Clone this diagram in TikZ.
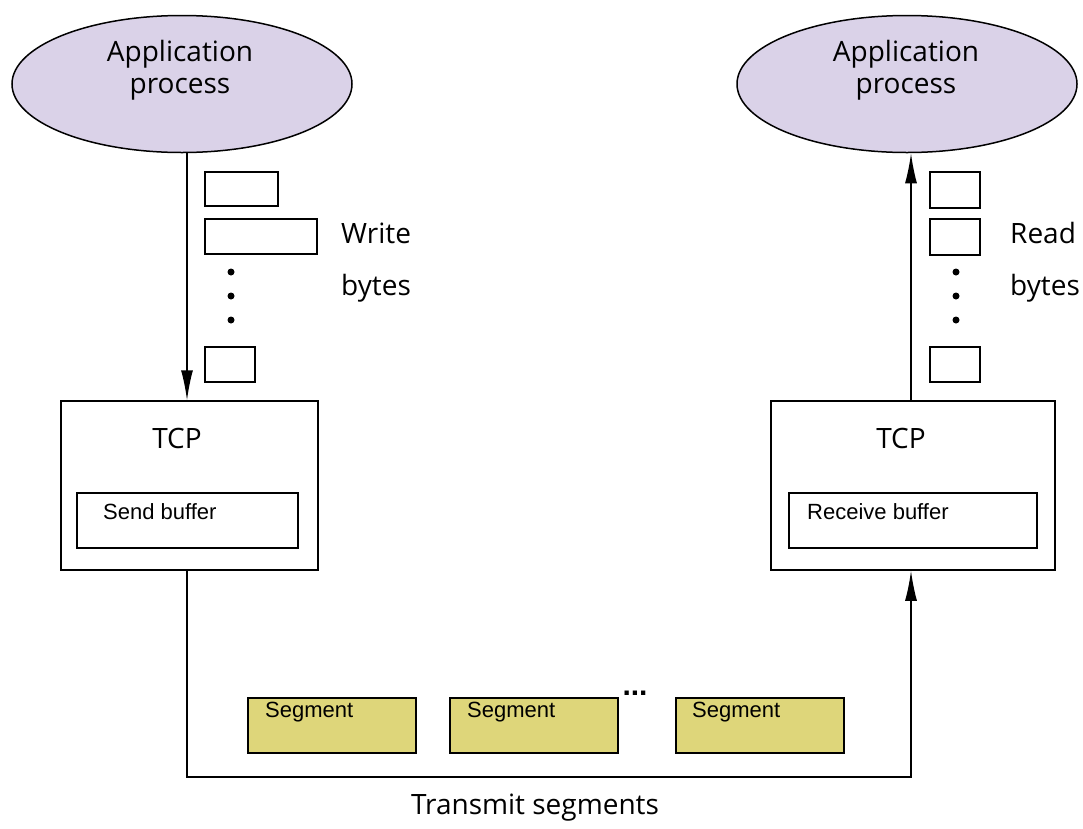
\documentclass[tikz,border=0pt]{standalone}
\usepackage{fontspec}
\setmainfont{Open Sans}
\newfontfamily\arial{Liberation Sans}
\usetikzlibrary{shapes.geometric,arrows.meta}
\definecolor{lav}{RGB}{218,210,232}
\definecolor{seg}{RGB}{222,214,122}
\tikzset{
  app/.style={ellipse,draw,line width=1.5pt,fill=lav,minimum width=340pt,minimum height=137pt,inner sep=0pt},
  big/.style={font=\fontsize{28}{32}\selectfont,align=center,inner sep=0pt},
  small/.style={font=\arial\fontsize{22}{24}\selectfont,inner sep=0pt,anchor=west},
  box/.style={draw,line width=1.5pt,inner sep=0pt,fill=white},
  segbox/.style={draw,line width=1.5pt,fill=seg,minimum width=168pt,minimum height=55pt,inner sep=0pt},
  conn/.style={line width=1.5pt},
  arr/.style={line width=1.5pt,-{Latex[length=30pt,width=12pt]}},
  dot/.style={circle,fill=black,inner sep=0pt,minimum size=7pt},
}
\begin{document}
\begin{tikzpicture}[x=1pt,y=-1pt]
\useasboundingbox (0,0) rectangle (1083,828);
% ellipses
\node[app] (appL) at (182,84) {};
\node[big] (appLt) at (180,70) {Application\\process};
\node[app] (appR) at (907,84) {};
\node[big] (appRt) at (906,70) {Application\\process};
% TCP boxes
\node[box,minimum width=257pt,minimum height=169pt] (tcpL) at (189.5,485.5) {};
\node[big] (tcpLt) at (177,438) {TCP};
\node[box,minimum width=221pt,minimum height=55pt] (bufL) at (187.5,520.5) {};
\node[small] (bufLt) at (103,512) {Send buffer};
\node[box,minimum width=284pt,minimum height=169pt] (tcpR) at (913,485.5) {};
\node[big] (tcpRt) at (901,438) {TCP};
\node[box,minimum width=248pt,minimum height=55pt] (bufR) at (913,520.5) {};
\node[small] (bufRt) at (807,512) {Receive buffer};
% left byte boxes
\node[box,minimum width=73pt,minimum height=34pt] (wb1) at (241.5,189) {};
\node[box,minimum width=112pt,minimum height=35pt] (wb2) at (261,236.5) {};
\node[dot] (wd1) at (231,272) {};
\node[dot] (wd2) at (231,296) {};
\node[dot] (wd3) at (231,320) {};
\node[box,minimum width=50pt,minimum height=35pt] (wb3) at (230,364.5) {};
\node[big,anchor=west] (write) at (341,233) {Write};
\node[big,anchor=west] (wbytes) at (341,288) {bytes};
% right byte boxes
\node[box,minimum width=50pt,minimum height=36pt] (rb1) at (955,190) {};
\node[box,minimum width=50pt,minimum height=36pt] (rb2) at (955,237) {};
\node[dot] (rd1) at (956,272) {};
\node[dot] (rd2) at (956,296) {};
\node[dot] (rd3) at (956,320) {};
\node[box,minimum width=50pt,minimum height=35pt] (rb3) at (955,364.5) {};
\node[big,anchor=west] (read) at (1010,233) {Read};
\node[big,anchor=west] (rbytes) at (1010,288) {bytes};
% segments
\node[segbox] (s1) at (332,725.5) {};
\node[small] (s1t) at (265,712) {Segment};
\node[segbox] (s2) at (534,725.5) {};
\node[small] (s2t) at (467,712) {Segment};
\node[segbox] (s3) at (760,725.5) {};
\node[small] (s3t) at (692,712) {Segment};
\node[font=\arial\bfseries\fontsize{30}{30}\selectfont,inner sep=0pt] (ell) at (635,693) {...};
\node[big] (trans) at (535,808) {Transmit segments};
% connectors
\coordinate (bl) at (187,777);
\draw[arr] ([xshift=5pt]appL.south) -- ([xshift=5pt]appL.south |- tcpL.north);
\draw[arr] (tcpR.north -| 911,0) -- (appR.south -| 911,0);
\draw[arr] (tcpL.south -| bl) -- (bl) -| ([xshift=-2pt]tcpR.south);
\end{tikzpicture}
\end{document}
